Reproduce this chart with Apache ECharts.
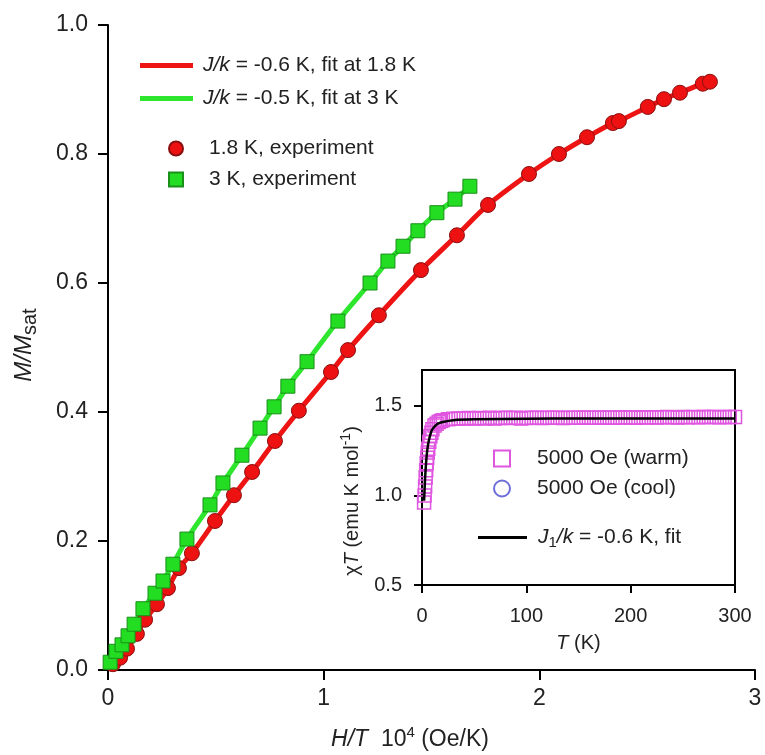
<!DOCTYPE html>
<html>
<head>
<meta charset="utf-8">
<script src="https://cdn.jsdelivr.net/npm/echarts@6/dist/echarts.min.js"></script>
<style>html,body{margin:0;padding:0;background:#fff}#c{width:765px;height:755px}</style>
</head>
<body>
<div id="c"></div>
<script>
// ---- main panel data: H/T (10^4 Oe/K) vs M/Msat ----
const exp18 = [[0.023,0.009],[0.056,0.019],[0.088,0.033],[0.134,0.056],[0.172,0.078],[0.227,0.102],[0.278,0.127],[0.329,0.158],[0.389,0.181],[0.496,0.231],[0.584,0.271],[0.668,0.307],[0.774,0.355],[0.885,0.402],[1.034,0.462],[1.113,0.496],[1.256,0.550],[1.451,0.620],[1.618,0.674],[1.762,0.721],[1.952,0.769],[2.091,0.800],[2.221,0.826],[2.341,0.848],[2.369,0.851],[2.503,0.873],[2.578,0.885],[2.652,0.895],[2.758,0.909],[2.791,0.912]];
const exp3 = [[0.010,0.012],[0.037,0.029],[0.065,0.039],[0.093,0.053],[0.121,0.071],[0.162,0.095],[0.218,0.119],[0.255,0.138],[0.301,0.164],[0.366,0.203],[0.473,0.256],[0.533,0.290],[0.621,0.333],[0.705,0.375],[0.770,0.408],[0.834,0.440],[0.923,0.478],[1.066,0.541],[1.215,0.600],[1.298,0.634],[1.368,0.657],[1.437,0.681],[1.525,0.709],[1.609,0.730],[1.678,0.750]];
const fit18 = [[0,0]].concat(exp18);
const fit3 = [[0,0]].concat(exp3);
const mainXTicks = [0,1,2,3];
const mainYTicks = [0,0.2,0.4,0.6,0.8,1.0];
// ---- inset data: T (K) vs chiT ----
const warm = [[2,0.96],[2.5,1.00],[3,1.05],[3.5,1.10],[4,1.14],[4.5,1.18],[5,1.21],[5.5,1.24],[6,1.26],[7,1.30],[8,1.33],[9,1.35],[10,1.37],[12,1.39],[14,1.40],[16,1.41],[18,1.415],[20,1.42],[25,1.425],[30,1.428],[35,1.43],[40,1.43],[45,1.432],[50,1.43],[55,1.432],[60,1.43],[65,1.433],[70,1.43],[75,1.432],[80,1.433],[85,1.432],[90,1.433],[95,1.43],[100,1.432],[105,1.434],[110,1.433],[115,1.432],[120,1.434],[125,1.433],[130,1.434],[135,1.432],[140,1.434],[145,1.433],[150,1.434],[155,1.435],[160,1.434],[165,1.433],[170,1.435],[175,1.434],[180,1.435],[185,1.434],[190,1.435],[195,1.436],[200,1.435],[205,1.434],[210,1.436],[215,1.435],[220,1.436],[225,1.435],[230,1.436],[235,1.437],[240,1.436],[245,1.435],[250,1.437],[255,1.436],[260,1.437],[265,1.436],[270,1.437],[275,1.438],[280,1.437],[285,1.436],[290,1.438],[295,1.437],[300,1.438]];
const cool = [];
const fitInset = [[2,0.97],[3,1.10],[4,1.19],[5,1.25],[6,1.29],[8,1.34],[10,1.37],[15,1.40],[20,1.41],[30,1.42],[50,1.425],[100,1.428],[150,1.43],[200,1.43],[250,1.43],[300,1.43]];
const insetXTicks = [0,100,200,300];
const insetYTicks = [0.5,1.0,1.5];

const FONT = '"Liberation Sans", Arial, sans-serif';
const SQ = 'path://M0,0L10,0L10,10L0,10Z';
const names = {
  f18: '{i|J/k} = -0.6 K, fit at 1.8 K',
  f3: '{i|J/k} = -0.5 K, fit at 3 K',
  e18: '1.8 K, experiment',
  e3: '3 K, experiment',
  w: '5000 Oe (warm)',
  c: '5000 Oe (cool)',
  fi: '{i|J}{sub|1}{i|/k} = -0.6 K, fit'
};
const legendText = {fontFamily: FONT, fontSize: 21, color: '#222',
  rich: {i: {fontStyle: 'italic', fontSize: 21, fontFamily: FONT, color: '#222'},
         sub: {fontSize: 15, fontFamily: FONT, color: '#222', verticalAlign: 'bottom', lineHeight: 26, padding: [8,0,0,0]}}};
const axisLine = {lineStyle: {color: '#000', width: 2}};

const chart = echarts.init(document.getElementById('c'), null, {renderer: 'canvas'});
chart.setOption({
  animation: false,
  backgroundColor: '#fff',
  textStyle: {fontFamily: FONT},
  grid: [
    {left: 108, right: 10, top: 25, bottom: 85},
    {left: 422, right: 30, top: 370, bottom: 170, show: true, backgroundColor: '#fff', borderColor: '#000', borderWidth: 2}
  ],
  xAxis: [
    {gridIndex: 0, type: 'value', min: 0, max: 3, interval: 1,
     axisLine: axisLine, axisTick: {length: 10, lineStyle: {color: '#000', width: 2}},
     axisLabel: {fontSize: 23, color: '#222', margin: 17, fontFamily: FONT, customValues: mainXTicks},
     splitLine: {show: false}},
    {gridIndex: 1, type: 'value', min: 0, max: 300, interval: 100,
     axisLine: axisLine, axisTick: {length: 8, lineStyle: {color: '#000', width: 2}},
     axisLabel: {fontSize: 20, color: '#222', margin: 21, fontFamily: FONT, customValues: insetXTicks},
     splitLine: {show: false},
     name: '{i|T} (K)', nameLocation: 'middle', nameGap: 48,
     nameTextStyle: {fontSize: 20, color: '#222', fontFamily: FONT,
       rich: {i: {fontStyle: 'italic', fontSize: 20, color: '#222', fontFamily: FONT}}}}
  ],
  yAxis: [
    {gridIndex: 0, type: 'value', min: 0, max: 1, interval: 0.2,
     axisLine: axisLine, axisTick: {length: 10, lineStyle: {color: '#000', width: 2}},
     axisLabel: {fontSize: 23, color: '#222', margin: 20, fontFamily: FONT, customValues: mainYTicks, formatter: v => v.toFixed(1)},
     splitLine: {show: false}},
    {gridIndex: 1, type: 'value', min: 0.5, max: 1.7, interval: 0.5,
     axisLine: axisLine, axisTick: {length: 8, lineStyle: {color: '#000', width: 2}, customValues: insetYTicks},
     axisLabel: {fontSize: 20, color: '#222', margin: 20, fontFamily: FONT, customValues: insetYTicks, formatter: v => v.toFixed(1)},
     splitLine: {show: false}}
  ],
  legend: [
    {left: 140, top: 55, padding: 0, orient: 'vertical', itemGap: 12, itemWidth: 53, itemHeight: 5, icon: 'rect',
     data: [names.f18, names.f3], textStyle: Object.assign({padding: [0,0,0,5]}, legendText), selectedMode: false},
    {left: 168, top: 138, padding: 0, orient: 'vertical', itemGap: 10, itemWidth: 56, itemHeight: 14, symbolKeepAspect: true,
     data: [{name: names.e18, icon: 'circle'}, {name: names.e3, icon: SQ}], textStyle: legendText, selectedMode: false},
    {left: 493, top: 448, padding: 0, orient: 'vertical', itemGap: 9, itemWidth: 60, itemHeight: 16, symbolKeepAspect: true,
     data: [{name: names.w, icon: SQ}, {name: names.c, icon: 'circle'}], textStyle: legendText, selectedMode: false},
    {left: 478, top: 527, padding: 0, orient: 'vertical', itemWidth: 49, itemHeight: 3, icon: 'rect',
     data: [names.fi], textStyle: Object.assign({padding: [0,0,0,6]}, legendText), selectedMode: false}
  ],
  series: [
    {name: names.f18, type: 'line', xAxisIndex: 0, yAxisIndex: 0, data: fit18, smooth: 0.3, showSymbol: false, symbol: 'none',
     lineStyle: {color: '#ee1414', width: 5}, itemStyle: {color: '#ee1414'}, z: 2},
    {name: names.f3, type: 'line', xAxisIndex: 0, yAxisIndex: 0, data: fit3, smooth: 0.3, showSymbol: false, symbol: 'none',
     lineStyle: {color: '#2ee62e', width: 5}, itemStyle: {color: '#2ee62e'}, z: 2},
    {name: names.e18, type: 'scatter', xAxisIndex: 0, yAxisIndex: 0, data: exp18, symbol: 'circle', symbolSize: 15,
     itemStyle: {color: '#ee1111', borderColor: '#8a1010', borderWidth: 1, opacity: 1}, z: 3},
    {name: names.e3, type: 'scatter', xAxisIndex: 0, yAxisIndex: 0, data: exp3, symbol: 'rect', symbolSize: 14,
     itemStyle: {color: '#22dd22', borderColor: '#1a8f1a', borderWidth: 1, opacity: 1}, z: 4},
    {name: names.c, type: 'scatter', xAxisIndex: 1, yAxisIndex: 1, data: cool, symbol: 'circle', symbolSize: 15,
     itemStyle: {color: 'rgba(0,0,0,0)', borderColor: '#4a4ad0', borderWidth: 1.5}, z: 5},
    {name: names.w, type: 'scatter', xAxisIndex: 1, yAxisIndex: 1, data: warm, symbol: 'rect', symbolSize: 13,
     itemStyle: {color: 'rgba(0,0,0,0)', borderColor: '#e055e0', borderWidth: 1.5, opacity: 1}, z: 6},
    {name: names.fi, type: 'line', xAxisIndex: 1, yAxisIndex: 1, data: fitInset, smooth: 0.3, showSymbol: false, symbol: 'none',
     lineStyle: {color: '#000', width: 2.5}, itemStyle: {color: '#000'}, z: 7}
  ],
  graphic: [
    {type: 'text', x: 24, y: 345, rotation: Math.PI / 2, z: 10,
     style: {text: '{i|M/M}{sub|sat}', fontSize: 24, fontFamily: FONT, fill: '#222', align: 'center', verticalAlign: 'middle',
       rich: {i: {fontStyle: 'italic', fontSize: 24, fontFamily: FONT, fill: '#222', lineHeight: 32},
              sub: {fontSize: 20, fontFamily: FONT, fill: '#222', verticalAlign: 'bottom', lineHeight: 32, padding: [11,0,0,0]}}}},
    {type: 'text', x: 410, y: 740, z: 10,
     style: {text: '{i|H/T}  10{sup|4} (Oe/K)', fontSize: 23, fontFamily: FONT, fill: '#222', align: 'center', verticalAlign: 'middle',
       rich: {i: {fontStyle: 'italic', fontSize: 23, fontFamily: FONT, fill: '#222', lineHeight: 30},
              sup: {fontSize: 15, fontFamily: FONT, fill: '#222', verticalAlign: 'top', lineHeight: 30, padding: [0,0,11,0]}}}},
    {type: 'text', x: 352, y: 501, rotation: Math.PI / 2, z: 10,
     style: {text: '\u03c7{i|T} (emu K mol{sup|-1})', fontSize: 20, fontFamily: FONT, fill: '#222', align: 'center', verticalAlign: 'middle',
       rich: {i: {fontStyle: 'italic', fontSize: 20, fontFamily: FONT, fill: '#222', lineHeight: 26},
              sup: {fontSize: 14, fontFamily: FONT, fill: '#222', verticalAlign: 'top', lineHeight: 26, padding: [0,0,10,0]}}}}
  ]
});
</script>
</body>
</html>
